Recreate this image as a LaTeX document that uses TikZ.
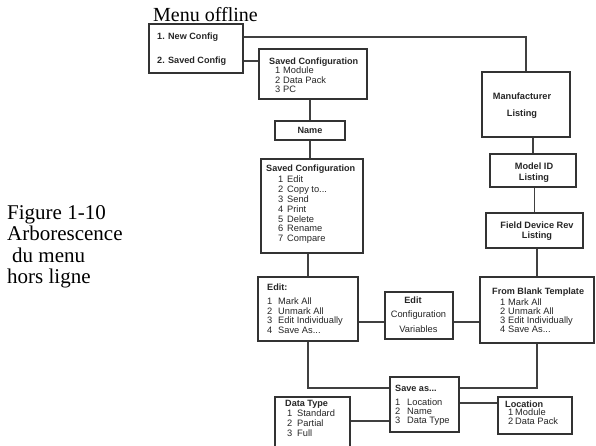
\documentclass[tikz,border=0pt]{standalone}
\usepackage{fontspec}
\setmainfont{Liberation Serif}
\newfontfamily\boxfont{Liberation Sans}
\newcommand\itm[3]{\makebox[#1pt][l]{#2}#3}
\begin{document}
\begin{tikzpicture}[x=1pt,y=-1pt,
  box/.style={draw=black!80,line width=1.1pt,inner sep=0pt,rectangle},
  conn/.style={draw=black!75,line width=1.1pt},
  hd/.style={font=\boxfont\bfseries\fontsize{9.1}{9.6}\selectfont,inner sep=0pt,anchor=west,text=black!85},
  lst/.style={font=\boxfont\fontsize{9.3}{9.5}\selectfont,inner sep=0pt,anchor=north west,align=left,text=black!85},
  ctr/.style={font=\boxfont\bfseries\fontsize{9.1}{9.6}\selectfont,inner sep=0pt,align=center,text=black!85}]
\clip (0,0) rectangle (596,445);
\fill[white] (0,0) rectangle (596,445);

% captions
\node[anchor=base west,inner sep=0pt,font=\fontsize{20}{22}\selectfont] (title) at (153,21) {Menu offline};
\node[anchor=north west,inner sep=0pt,align=left,font=\fontsize{21}{21.5}\selectfont] (cap) at (7,205)
  {Figure 1-10\\Arborescence\\\hspace*{5pt}du menu\\hors ligne};

% boxes
\node[box,minimum width=94pt,minimum height=49pt] (menu) at (196,48.5) {};
\node[box,minimum width=108pt,minimum height=50pt] (sc1) at (313,74) {};
\node[box,minimum width=70pt,minimum height=19pt] (name) at (310,130.5) {};
\node[box,minimum width=102pt,minimum height=94pt] (sc2) at (312,206) {};
\node[box,minimum width=100pt,minimum height=64pt] (edit) at (308,309) {};
\node[box,minimum width=68pt,minimum height=47pt] (ecv) at (419,315.5) {};
\node[box,minimum width=114pt,minimum height=66pt] (fb) at (537,310) {};
\node[box,minimum width=88pt,minimum height=65pt] (manu) at (526,104.5) {};
\node[box,minimum width=86pt,minimum height=33pt] (mid) at (533,170.5) {};
\node[box,minimum width=97pt,minimum height=35pt] (fdr) at (534.5,230.5) {};
\node[box,minimum width=69pt,minimum height=55pt] (save) at (424.5,404.5) {};
\node[box,minimum width=75pt,minimum height=55pt] (dt) at (312.5,424.5) {};
\node[box,minimum width=74pt,minimum height=37pt] (loc) at (535,415.5) {};

% texts
\node[hd] (t1) at (157,37) {1. New Config};
\node[hd] (t2) at (157,61) {2. Saved Config};

\node[hd] (sc1h) at (269,62) {Saved Configuration};
\node[lst] (sc1l) at (275,67) {\itm{8}{1}{Module}\\\itm{8}{2}{Data Pack}\\\itm{8}{3}{PC}};

\node[ctr] (namet) at (310,130.5) {Name};

\node[hd] (sc2h) at (266,169) {Saved Configuration};
\node[lst,font=\boxfont\fontsize{9.3}{9.8}\selectfont] (sc2l) at (278,176)
  {\itm{9}{1}{Edit}\\\itm{9}{2}{Copy to...}\\\itm{9}{3}{Send}\\\itm{9}{4}{Print}\\\itm{9}{5}{Delete}\\\itm{9}{6}{Rename}\\\itm{9}{7}{Compare}};

\node[hd] (edh) at (267,287) {Edit:};
\node[lst] (edl) at (267,298)
  {\itm{11}{1}{Mark All}\\\itm{11}{2}{Unmark All}\\\itm{11}{3}{Edit Individually}\\\itm{11}{4}{Save As...}};

\node[ctr] (ecvh) at (413,300) {Edit};
\node[ctr,font=\boxfont\fontsize{9.3}{14.5}\selectfont] (ecvt) at (418.5,321.5) {Configuration\\Variables};

\node[hd] (fbh) at (492,292) {From Blank Template};
\node[lst,font=\boxfont\fontsize{9.3}{9}\selectfont] (fbl) at (500,299)
  {\itm{8}{1}{Mark All}\\\itm{8}{2}{Unmark All}\\\itm{8}{3}{Edit Individually}\\\itm{8}{4}{Save As...}};

\node[ctr,font=\boxfont\bfseries\fontsize{9.2}{17}\selectfont] (manut) at (522,105.5) {Manufacturer\\Listing};
\node[ctr,font=\boxfont\bfseries\fontsize{9.2}{11}\selectfont] (midt) at (534,172.5) {Model ID\\Listing};
\node[ctr,font=\boxfont\bfseries\fontsize{9.2}{10}\selectfont] (fdrt) at (537,231) {Field Device Rev\\Listing};

\node[hd] (saveh) at (395,388) {Save as...};
\node[lst,font=\boxfont\fontsize{9.3}{9}\selectfont] (savel) at (395,399)
  {\itm{12}{1}{Location}\\\itm{12}{2}{Name}\\\itm{12}{3}{Data Type}};

\node[hd] (dth) at (285,404) {Data Type};
\node[lst,font=\boxfont\fontsize{9.3}{10}\selectfont] (dtl) at (287,410)
  {\itm{10}{1}{Standard}\\\itm{10}{2}{Partial}\\\itm{10}{3}{Full}};

\node[hd] (loch) at (505,404) {Location};
\node[lst,font=\boxfont\fontsize{9.3}{9}\selectfont] (locl) at (508,409)
  {\itm{7}{1}{Module}\\\itm{7}{2}{Data Pack}};

% connectors
\coordinate (yNew) at (0,37);
\coordinate (ySaved) at (0,61);
\coordinate (yEcv) at (0,322);
\coordinate (ySave) at (0,388);
\coordinate (yDt) at (0,421);
\coordinate (yLoc) at (0,403);
\draw[conn] (menu.east |- yNew) -| (manu.north);
\draw[conn] (menu.east |- ySaved) -- (sc1.west |- ySaved);
\draw[conn] (name.north |- sc1.south) -- (name.north);
\draw[conn] (name.south) -- (name.south |- sc2.north);
\draw[conn] (edit.north |- sc2.south) -- (edit.north);
\draw[conn] (edit.east |- yEcv) -- (ecv.west |- yEcv);
\draw[conn] (ecv.east |- yEcv) -- (fb.west |- yEcv);
\draw[conn] (mid.north |- manu.south) -- (mid.north);
\draw[conn] (fdr.north |- mid.south) -- (fdr.north);
\draw[conn] (fb.north |- fdr.south) -- (fb.north);
\draw[conn] (edit.south) |- (save.west |- ySave);
\draw[conn] (save.east |- ySave) -| (fb.south);
\draw[conn] (dt.east |- yDt) -- (save.west |- yDt);
\draw[conn] (save.east |- yLoc) -- (loc.west |- yLoc);
\end{tikzpicture}
\end{document}
